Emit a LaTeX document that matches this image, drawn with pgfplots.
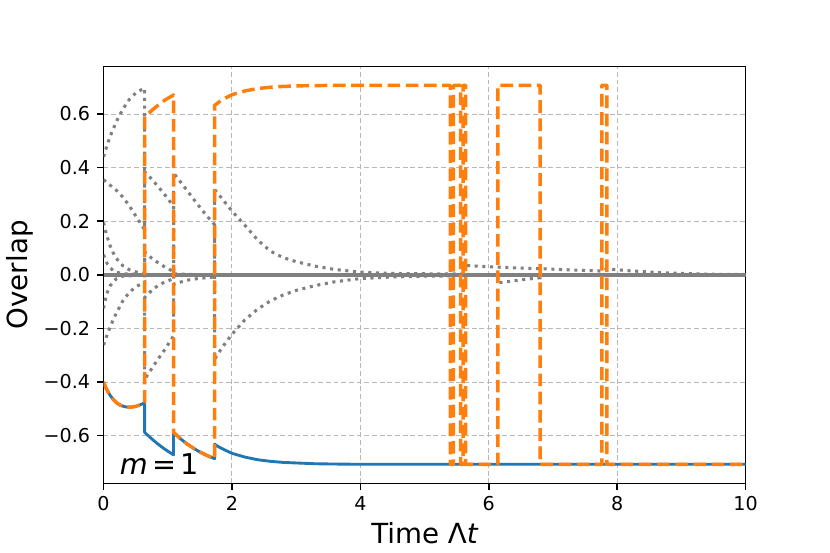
\documentclass[border=0pt]{standalone}
\usepackage{fontspec}
\setmainfont{DejaVu Sans}
\usepackage{pgfplots}
\pgfplotsset{compat=1.18}
\definecolor{C0}{HTML}{1F77B4}
\definecolor{C1}{HTML}{FF7F0E}
\definecolor{mgray}{HTML}{808080}
\definecolor{gridc}{HTML}{B8B8B8}
\begin{document}
\begin{tikzpicture}
\begin{axis}[
  at={(0,0)}, anchor=south west,
  scale only axis, width=334.8bp, height=217.4bp,
  xmin=0, xmax=10, ymin=-0.7778, ymax=0.7778,
  xtick={0,2,4,6,8,10}, xticklabels={0,2,4,6,8,10},
  ytick={-0.6,-0.4,-0.2,0,0.2,0.4,0.6},
  yticklabels={−0.6,−0.4,−0.2,0.0,0.2,0.4,0.6},
  grid=major,
  major grid style={gridc, line width=0.5bp, dash pattern=on 2.5bp off 1.5bp},
  tick align=outside, major tick length=3.5bp,
  tick style={black, line width=0.8bp},
  tick pos=left,
  axis line style={black, line width=0.8bp},
  ticklabel style={font=\fontsize{10}{12}\selectfont},
  xlabel={Time Λ{\itshape t}}, ylabel={Overlap},
  every axis x label/.style={at={(axis description cs:0.5,0)}, anchor=base, yshift=-31.6bp, font=\fontsize{14.5}{17}\selectfont},
  every axis y label/.style={at={(axis description cs:-0.13,0.5)}, anchor=center, rotate=90, font=\fontsize{14.5}{17}\selectfont},
  no markers,
  clip=true,
]
% gray dotted components
\addplot[mgray, line width=1.6bp, dash pattern=on 1.6bp off 2.4bp] coordinates {
(0,0.440) (0.05,0.480) (0.1,0.515) (0.2,0.572) (0.3,0.618) (0.4,0.654) (0.5,0.678) (0.6,0.692) (0.64,0.696)
(0.64,-0.390) (0.75,-0.350) (0.85,-0.314) (0.95,-0.280) (1.09,-0.228)
(1.09,0.380) (1.2,0.346) (1.3,0.315) (1.4,0.283) (1.5,0.252) (1.6,0.222) (1.73,0.187)
(1.73,-0.315) (1.85,-0.270) (2.0,-0.222) (2.2,-0.168) (2.4,-0.128) (2.6,-0.097) (2.8,-0.075) (3.0,-0.058) (3.3,-0.040) (3.6,-0.026) (4.0,-0.014) (4.5,-0.008) (5.0,-0.005) (5.40,-0.004)
(5.40,0) (6.14,0) (6.14,-0.030) (6.4,-0.022) (6.6,-0.016) (6.80,-0.011) (6.80,0) (10,0)
};
\addplot[mgray, line width=1.6bp, dash pattern=on 1.6bp off 2.4bp] coordinates {
(0,0.355) (0.1,0.335) (0.2,0.315) (0.3,0.290) (0.4,0.258) (0.5,0.220) (0.64,0.168)
(0.64,0.385) (0.75,0.357) (0.85,0.329) (0.95,0.300) (1.09,0.256)
(1.09,-0.035) (1.3,-0.020) (1.5,-0.013) (1.73,-0.008)
(1.73,0.318) (1.85,0.283) (2.0,0.238) (2.2,0.185) (2.4,0.130) (2.6,0.088) (2.8,0.064) (3.0,0.049) (3.3,0.032) (3.6,0.020) (4.0,0.010) (4.5,0.005) (5.0,0.004) (5.40,0.003)
(5.62,0.003) (5.62,0.035) (6.0,0.030) (6.4,0.026) (6.80,0.023) (7.2,0.019) (7.76,0.014)
(7.84,0.022) (8.2,0.015) (8.6,0.009) (9.0,0.005) (9.5,0.002) (10,0.001)
};
\addplot[mgray, line width=1.6bp, dash pattern=on 1.6bp off 2.4bp] coordinates {
(0,0.195) (0.05,0.146) (0.1,0.110) (0.15,0.082) (0.2,0.061) (0.3,0.034) (0.4,0.019) (0.5,0.011) (0.64,0.005)
(0.64,0.085) (0.75,0.062) (0.85,0.045) (0.95,0.030) (1.09,0.012)
(1.09,0.004) (1.4,0.001) (10,0)
};
\addplot[mgray, line width=1.6bp, dash pattern=on 1.6bp off 2.4bp] coordinates {
(0,-0.262) (0.05,-0.228) (0.1,-0.196) (0.15,-0.168) (0.2,-0.143) (0.3,-0.097) (0.4,-0.066) (0.5,-0.045) (0.64,-0.027)
(0.64,-0.085) (0.75,-0.058) (0.85,-0.040) (0.95,-0.027) (1.09,-0.015)
(1.09,-0.004) (1.4,-0.001) (10,0)
};
\addplot[mgray, line width=1.6bp, dash pattern=on 1.6bp off 2.4bp] coordinates {
(0,-0.125) (0.03,-0.090) (0.06,-0.064) (0.1,-0.042) (0.15,-0.025) (0.2,-0.015) (0.3,-0.005) (0.64,0) (10,0)
};
\addplot[mgray, line width=1.6bp, dash pattern=on 1.6bp off 2.4bp] coordinates {
(0,0.075) (0.03,0.055) (0.06,0.040) (0.1,0.027) (0.15,0.016) (0.2,0.010) (0.3,0.004) (0.64,0) (10,0)
};
% zero line
\addplot[mgray, line width=1.8bp] coordinates {(0,0) (10,0)};
% blue
\addplot[C0, line width=1.5bp, line join=round] coordinates {
(0,-0.400) (0.03,-0.418) (0.06,-0.433) (0.1,-0.449) (0.15,-0.465) (0.2,-0.477) (0.25,-0.485) (0.3,-0.490) (0.35,-0.493) (0.4,-0.494) (0.45,-0.493) (0.5,-0.491) (0.55,-0.487) (0.6,-0.482) (0.64,-0.477)
(0.64,-0.588) (0.75,-0.612) (0.85,-0.632) (0.95,-0.650) (1.09,-0.672)
(1.09,-0.588) (1.2,-0.612) (1.3,-0.631) (1.4,-0.647) (1.5,-0.661) (1.6,-0.673) (1.73,-0.686)
(1.73,-0.632) (1.8,-0.643) (1.9,-0.655) (2.0,-0.666) (2.2,-0.680) (2.4,-0.690) (2.6,-0.696) (2.8,-0.700) (3.0,-0.702) (3.3,-0.705) (3.6,-0.706) (4.0,-0.707) (10,-0.707)
};
% orange
\addplot[C1, line width=1.8bp, dash pattern=on 6.6bp off 2.9bp, line join=round] coordinates {
(0,-0.400) (0.03,-0.418) (0.06,-0.433) (0.1,-0.449) (0.15,-0.465) (0.2,-0.477) (0.25,-0.485) (0.3,-0.490) (0.35,-0.493) (0.4,-0.494) (0.45,-0.493) (0.5,-0.491) (0.55,-0.487) (0.6,-0.482) (0.64,-0.477)
(0.64,0.590) (0.75,0.613) (0.85,0.633) (0.95,0.651) (1.09,0.671)
(1.09,-0.588) (1.2,-0.612) (1.3,-0.631) (1.4,-0.647) (1.5,-0.661) (1.6,-0.673) (1.73,-0.686)
(1.73,0.632) (1.8,0.645) (1.9,0.660) (2.0,0.672) (2.2,0.686) (2.4,0.695) (2.6,0.700) (2.8,0.703) (3.0,0.705) (3.3,0.706) (3.6,0.707) (5.40,0.707)
(5.40,-0.707) (5.45,-0.707) (5.45,0.707) (5.56,0.707) (5.56,-0.707) (5.60,-0.707) (5.60,0.707) (5.64,0.707) (5.64,-0.707)
(6.14,-0.707) (6.14,0.707) (6.80,0.707) (6.80,-0.707) (7.76,-0.707) (7.76,0.707) (7.84,0.707) (7.84,-0.707) (10,-0.707)
};
\node[anchor=base west, font=\fontsize{15}{18}\selectfont, inner sep=0pt] at (axis cs:0.25,-0.744) {{\itshape m}\hspace{0.15em}=\hspace{0.15em}1};
\end{axis}
\pgfresetboundingbox
\useasboundingbox (-54bp,-36bp) rectangle (378.8bp,252bp);
\end{tikzpicture}
\end{document}
